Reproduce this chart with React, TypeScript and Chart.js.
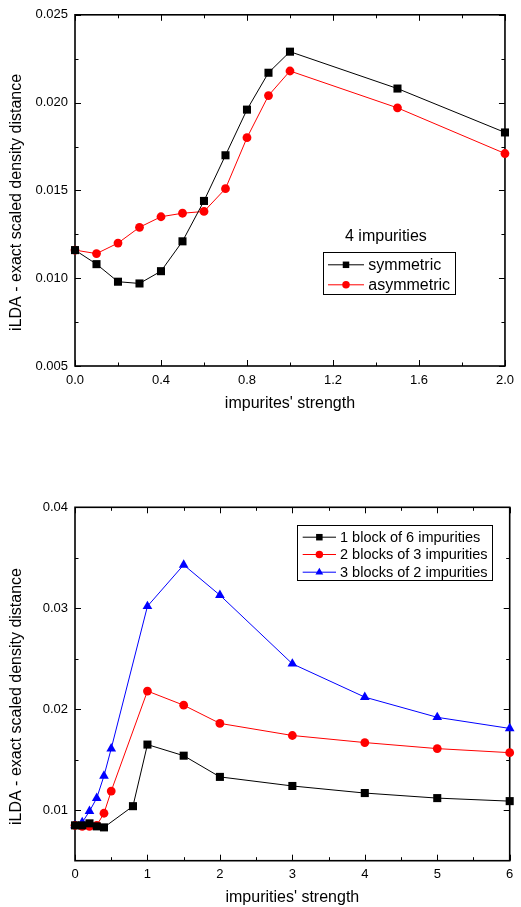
import React, { useEffect, useRef } from 'react';
import { Chart, registerables } from 'chart.js';

Chart.register(...registerables);

// ---------- DATA ----------
// Top panel: 4 impurities
const topStrength = [0, 0.1, 0.2, 0.3, 0.4, 0.5, 0.6, 0.7, 0.8, 0.9, 1.0, 1.5, 2.0];
const symmetricDist = [0.0116, 0.0108, 0.0098, 0.0097, 0.0104, 0.0121, 0.0144, 0.0170, 0.0196, 0.0217, 0.0229, 0.0208, 0.0183];
const asymmetricDist = [0.0116, 0.0114, 0.0120, 0.0129, 0.0135, 0.0137, 0.0138, 0.0151, 0.0180, 0.0204, 0.0218, 0.0197, 0.0171];
const topXLabels = [0, 0.4, 0.8, 1.2, 1.6, 2.0];
const topXMinor = [0.2, 0.6, 1.0, 1.4, 1.8];
const topYLabels = [0.005, 0.010, 0.015, 0.020, 0.025];
const topYMinor = [0.0075, 0.0125, 0.0175, 0.0225];

// Bottom panel: 6 impurities in blocks
const oneBlockStrength = [0, 0.1, 0.2, 0.3, 0.4, 0.8, 1, 1.5, 2, 3, 4, 5, 6];
const oneBlockDist = [0.0085, 0.0085, 0.0087, 0.0084, 0.0083, 0.0104, 0.0165, 0.0154, 0.0133, 0.0124, 0.0117, 0.0112, 0.0109];
const blocksStrength = [0, 0.1, 0.2, 0.3, 0.4, 0.5, 1, 1.5, 2, 3, 4, 5, 6];
const twoBlocksDist = [0.0085, 0.0084, 0.0084, 0.0085, 0.0097, 0.0119, 0.0218, 0.0204, 0.0186, 0.0174, 0.0167, 0.0161, 0.0157];
const threeBlocksDist = [0.0085, 0.0088, 0.0099, 0.0112, 0.0134, 0.0161, 0.0302, 0.0343, 0.0313, 0.0245, 0.0212, 0.0192, 0.0181];
const bottomXLabels = [0, 1, 2, 3, 4, 5, 6];
const bottomXMinor = [0.5, 1.5, 2.5, 3.5, 4.5, 5.5];
const bottomYLabels = [0.01, 0.02, 0.03, 0.04];
const bottomYMinor = [0.015, 0.025, 0.035];

const FONT = "'Liberation Sans', Arial, Helvetica, sans-serif";
Chart.defaults.font.family = FONT;

type Shape = 'rect' | 'circle' | 'triangle';

function drawMarker(ctx: CanvasRenderingContext2D, shape: Shape, x: number, y: number, s: number, color: string) {
  ctx.fillStyle = color;
  ctx.beginPath();
  if (shape === 'rect') {
    ctx.rect(x - s / 2, y - s / 2, s, s);
  } else if (shape === 'circle') {
    ctx.arc(x, y, s / 2, 0, Math.PI * 2);
  } else {
    const r = s / 2;
    ctx.moveTo(x, y - r);
    ctx.lineTo(x + r * 0.866, y + r / 2);
    ctx.lineTo(x - r * 0.866, y + r / 2);
    ctx.closePath();
  }
  ctx.fill();
}

const framePlugin = {
  id: 'frame',
  beforeDatasetsDraw(chart: any, _args: any, opts: any) {
    const ctx: CanvasRenderingContext2D = chart.ctx;
    const { left, right, top, bottom } = chart.chartArea;
    const xs = chart.scales.x;
    const ys = chart.scales.y;
    ctx.save();
    ctx.strokeStyle = '#000';
    ctx.lineWidth = 1;
    const tick = (vals: number[], len: number) => {
      vals.forEach((v) => {
        const px = Math.round(xs.getPixelForValue(v)) + 0.5;
        ctx.beginPath();
        ctx.moveTo(px, bottom); ctx.lineTo(px, bottom - len);
        ctx.moveTo(px, top); ctx.lineTo(px, top + len);
        ctx.stroke();
      });
    };
    const ytick = (vals: number[], len: number) => {
      vals.forEach((v) => {
        const py = Math.round(ys.getPixelForValue(v)) + 0.5;
        ctx.beginPath();
        ctx.moveTo(left, py); ctx.lineTo(left + len, py);
        ctx.moveTo(right, py); ctx.lineTo(right - len, py);
        ctx.stroke();
      });
    };
    tick(opts.xMajor, 6);
    tick(opts.xMinor, 3.5);
    ytick(opts.yMajor, 6);
    ytick(opts.yMinor, 3.5);
    ctx.lineWidth = 1.6;
    ctx.strokeRect(left, top, right - left, bottom - top);
    ctx.restore();
  },
  afterDraw(chart: any, _args: any, opts: any) {
    const ctx: CanvasRenderingContext2D = chart.ctx;
    const { top, bottom } = chart.chartArea;
    ctx.save();
    // y title
    ctx.fillStyle = '#000';
    ctx.font = `16px ${FONT}`;
    ctx.textAlign = 'center';
    ctx.textBaseline = 'middle';
    ctx.translate(opts.yTitleX, (top + bottom) / 2 + opts.yTitleShift);
    ctx.rotate(-Math.PI / 2);
    ctx.fillText(opts.yTitle, 0, 0);
    ctx.restore();

    // note
    if (opts.note) {
      ctx.save();
      ctx.fillStyle = '#000';
      ctx.font = `${opts.note.size}px ${FONT}`;
      ctx.textAlign = 'left';
      ctx.textBaseline = 'middle';
      ctx.fillText(opts.note.text, opts.note.x, opts.note.y);
      ctx.restore();
    }

    // legend
    const lg = opts.legend;
    ctx.save();
    ctx.fillStyle = '#fff';
    ctx.fillRect(lg.x, lg.y, lg.w, lg.h);
    ctx.strokeStyle = '#000';
    ctx.lineWidth = 1;
    ctx.strokeRect(Math.round(lg.x) + 0.5, Math.round(lg.y) + 0.5, Math.round(lg.w), Math.round(lg.h));
    lg.items.forEach((it: any, i: number) => {
      const y = lg.rows[i];
      ctx.strokeStyle = it.color;
      ctx.lineWidth = 1;
      ctx.beginPath();
      ctx.moveTo(lg.lineX0, y + 0.5);
      ctx.lineTo(lg.lineX1, y + 0.5);
      ctx.stroke();
      drawMarker(ctx, it.shape, (lg.lineX0 + lg.lineX1) / 2, y + 0.5, it.size, it.color);
      ctx.fillStyle = '#000';
      ctx.font = `${lg.fontSize}px ${FONT}`;
      ctx.textAlign = 'left';
      ctx.textBaseline = 'middle';
      ctx.fillText(it.label, lg.textX, y + 1);
    });
    ctx.restore();
  },
};

function series(label: string, xs: number[], ys: number[], color: string, shape: Shape, radius: number) {
  return {
    label,
    data: xs.map((x, i) => ({ x, y: ys[i] })),
    borderColor: color,
    backgroundColor: color,
    pointBackgroundColor: color,
    pointBorderColor: color,
    borderWidth: 1,
    pointStyle: shape,
    pointRadius: radius,
    pointHoverRadius: radius,
    pointBorderWidth: 0,
    tension: 0,
    clip: false,
  };
}

function axes(opts: {
  xMin: number; xMax: number; yMin: number; yMax: number;
  xLabels: number[]; yLabels: number[]; xFmt: (v: number) => string; yFmt: (v: number) => string;
  xHeight: number; xTitle: string; xTitlePad: number; xTickPad: number;
}) {
  const tickFont = { family: FONT, size: 13 };
  return {
    x: {
      type: 'linear',
      min: opts.xMin,
      max: opts.xMax,
      afterBuildTicks: (s: any) => { s.ticks = opts.xLabels.map((v) => ({ value: v })); },
      afterFit: (s: any) => { s.height = opts.xHeight; },
      grid: { display: false, drawTicks: false },
      border: { display: false },
      ticks: { padding: opts.xTickPad, autoSkip: false, maxRotation: 0, color: '#000', font: tickFont, callback: (v: any) => opts.xFmt(Number(v)) },
      title: { display: true, text: opts.xTitle, color: '#000', font: { family: FONT, size: 16 }, padding: { top: 0, bottom: opts.xTitlePad } },
    },
    y: {
      type: 'linear',
      min: opts.yMin,
      max: opts.yMax,
      afterBuildTicks: (s: any) => { s.ticks = opts.yLabels.map((v) => ({ value: v })); },
      afterFit: (s: any) => { s.width = 75; },
      grid: { display: false, drawTicks: false },
      border: { display: false },
      ticks: { padding: 7, autoSkip: false, color: '#000', font: tickFont, callback: (v: any) => opts.yFmt(Number(v)) },
      title: { display: false },
    },
  };
}

const Y_TITLE = 'iLDA - exact scaled density distance';

function makeTopConfig(): any {
  return {
    type: 'line',
    data: {
      datasets: [
        series('symmetric', topStrength, symmetricDist, '#000000', 'rect', 5.7),
        series('asymmetric', topStrength, asymmetricDist, '#ff0000', 'circle', 4.4),
      ],
    },
    options: {
      responsive: false,
      animation: false,
      events: [],
      layout: { padding: { left: 0, top: 13, right: 11, bottom: 0 } },
      plugins: {
        legend: { display: false },
        tooltip: { enabled: false },
        frame: {
          xMajor: topXLabels, xMinor: topXMinor, yMajor: topYLabels, yMinor: topYMinor,
          yTitle: Y_TITLE, yTitleX: 17, yTitleShift: 12,
          note: { text: '4 impurities', x: 345, y: 237, size: 16 },
          legend: {
            x: 322.7, y: 251.7, w: 131.6, h: 42.3,
            rows: [264.3, 284.3], lineX0: 328, lineX1: 364, textX: 368.3, fontSize: 16,
            items: [
              { label: 'symmetric', color: '#000000', shape: 'rect', size: 6.5 },
              { label: 'asymmetric', color: '#ff0000', shape: 'circle', size: 7.5 },
            ],
          },
        },
      },
      scales: axes({
        xMin: 0, xMax: 2, yMin: 0.005, yMax: 0.025,
        xLabels: topXLabels, yLabels: topYLabels,
        xFmt: (v) => v.toFixed(1), yFmt: (v) => v.toFixed(3),
        xHeight: 64, xTitle: "impurites' strength", xTitlePad: 17, xTickPad: 7,
      }),
    },
    plugins: [framePlugin],
  };
}

function makeBottomConfig(): any {
  return {
    type: 'line',
    data: {
      datasets: [
        series('1 block of 6 impurities', oneBlockStrength, oneBlockDist, '#000000', 'rect', 5.7),
        series('2 blocks of 3 impurities', blocksStrength, twoBlocksDist, '#ff0000', 'circle', 4.4),
        series('3 blocks of 2 impurities', blocksStrength, threeBlocksDist, '#0000ff', 'triangle', 5.6),
      ],
    },
    options: {
      responsive: false,
      animation: false,
      events: [],
      layout: { padding: { left: 0, top: 67.3, right: 11.3, bottom: 0 } },
      plugins: {
        legend: { display: false },
        tooltip: { enabled: false },
        frame: {
          xMajor: bottomXLabels, xMinor: bottomXMinor, yMajor: bottomYLabels, yMinor: bottomYMinor,
          yTitle: Y_TITLE, yTitleX: 17, yTitleShift: 12.5,
          legend: {
            x: 296.7, y: 85, w: 195, h: 55,
            rows: [96.7, 114, 131.7], lineX0: 302.7, lineX1: 336, textX: 340, fontSize: 14.5,
            items: [
              { label: '1 block of 6 impurities', color: '#000000', shape: 'rect', size: 6.5 },
              { label: '2 blocks of 3 impurities', color: '#ff0000', shape: 'circle', size: 7.5 },
              { label: '3 blocks of 2 impurities', color: '#0000ff', shape: 'triangle', size: 9 },
            ],
          },
        },
      },
      scales: axes({
        xMin: 0, xMax: 6, yMin: 0.005, yMax: 0.04,
        xLabels: bottomXLabels, yLabels: bottomYLabels,
        xFmt: (v) => String(Math.round(v)), yFmt: (v) => v.toFixed(2),
        xHeight: 46.3, xTitle: "impurities' strength", xTitlePad: 0, xTickPad: 5.5,
      }),
    },
    plugins: [framePlugin],
  };
}

function ChartCanvas({ make, top, height }: { make: () => any; top: number; height: number }) {
  const ref = useRef<HTMLCanvasElement>(null);
  useEffect(() => {
    const chart = new Chart(ref.current as HTMLCanvasElement, make());
    return () => chart.destroy();
  }, [make]);
  return (
    <canvas
      ref={ref}
      width={521}
      height={height}
      style={{ position: 'absolute', left: 0, top, width: 521, height, display: 'block' }}
    />
  );
}

export default function App() {
  return (
    <div style={{ position: 'absolute', left: 0, top: 0, width: 521, height: 907, background: '#fff', overflow: 'hidden' }}>
      <ChartCanvas make={makeTopConfig} top={0} height={430} />
      <ChartCanvas make={makeBottomConfig} top={440} height={467} />
    </div>
  );
}
